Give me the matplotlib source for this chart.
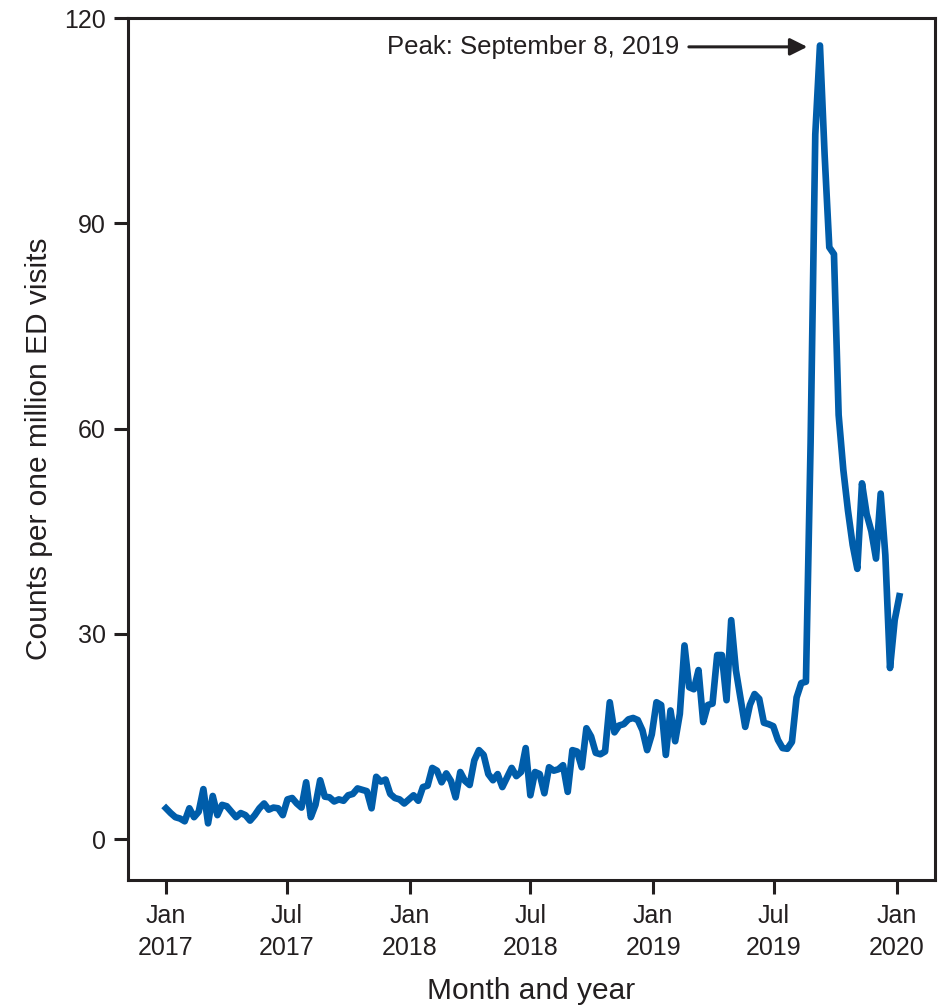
import numpy as np
import matplotlib
matplotlib.use("Agg")
import matplotlib.pyplot as plt
import datetime as dt

plt.rcParams['font.family'] = ['Liberation Sans', 'DejaVu Sans']

start_date = "2017-01-01"
counts = [
    4.5, 3.8, 3.2, 3.0, 2.6, 4.5, 3.2, 4.0, 7.3, 2.3,
    6.3, 3.5, 5.0, 4.8, 4.0, 3.2, 3.8, 3.5, 2.7, 3.5,
    4.5, 5.2, 4.3, 4.6, 4.5, 3.5, 5.8, 6.0, 5.2, 4.6,
    8.3, 3.2, 5.0, 8.6, 6.2, 6.1, 5.5, 5.8, 5.6, 6.4,
    6.6, 7.4, 7.2, 7.0, 4.5, 9.1, 8.4, 8.7, 6.6, 6.0,
    5.8, 5.2, 5.8, 6.4, 5.6, 7.6, 7.8, 10.4, 10.0, 8.3,
    9.6, 8.5, 6.1, 9.8, 8.5, 7.9, 11.5, 13.0, 12.3, 9.5,
    8.6, 9.5, 7.6, 9.0, 10.4, 9.2, 9.8, 13.3, 6.4, 9.8,
    9.5, 6.7, 10.5, 10.0, 10.2, 10.8, 6.9, 13.0, 12.8, 10.5,
    16.2, 15.0, 12.6, 12.4, 12.8, 20.0, 15.6, 16.6, 16.8, 17.5,
    17.7, 17.4, 15.9, 13.0, 15.3, 20.0, 19.6, 12.3, 18.8, 14.3,
    18.3, 28.3, 22.2, 21.9, 24.7, 17.1, 19.6, 19.8, 26.9, 26.9,
    20.3, 32.0, 24.7, 20.5, 16.4, 19.6, 21.2, 20.5, 17.0, 16.8,
    16.5, 14.5, 13.3, 13.2, 14.2, 20.7, 22.8, 23.0, 58.0, 103.0,
    116.0, 100.0, 86.5, 85.5, 62.0, 54.0, 48.0, 43.0, 39.5, 52.0,
    47.5, 45.0, 41.0, 50.5, 41.5, 25.0, 32.0, 35.5,
]
dates = np.datetime64(start_date) + np.arange(len(counts)) * np.timedelta64(7, 'D')
dates = dates.astype('datetime64[D]').astype(dt.date)

tick_dates = [dt.date(2017, 1, 1), dt.date(2017, 7, 1), dt.date(2018, 1, 1),
              dt.date(2018, 7, 1), dt.date(2019, 1, 1), dt.date(2019, 7, 1),
              dt.date(2020, 1, 1)]
tick_labels = ["Jan\n2017", "Jul\n2017", "Jan\n2018", "Jul\n2018",
               "Jan\n2019", "Jul\n2019", "Jan\n2020"]
y_ticks = [0, 30, 60, 90, 120]
peak_label = "Peak: September 8, 2019"
peak_date = dt.date(2019, 9, 8)
peak_value = 116.0

fig = plt.figure(figsize=(9.48, 10.07), dpi=100)
ax = fig.add_axes([0.135, 0.126, 0.851, 0.856])

ax.plot(dates, counts, color='#005DAA', lw=4.8, solid_joinstyle='round')

ax.set_xlim(dt.date(2016, 11, 5), dt.date(2020, 2, 27))
ax.set_ylim(-6, 120)
ax.set_xticks(tick_dates)
ax.set_xticklabels(tick_labels, linespacing=1.45)
ax.set_yticks(y_ticks)

for s in ax.spines.values():
    s.set_linewidth(2.2)
    s.set_color('#231f20')
ax.tick_params(axis='both', length=10, width=2.2, color='#231f20',
               labelsize=18, labelcolor='#231f20')
ax.tick_params(axis='x', pad=7)
ax.tick_params(axis='y', pad=6)

ax.set_xlabel("Month and year", fontsize=21.5, color='#231f20', labelpad=12)
ax.set_ylabel("Counts per one million ED visits", fontsize=21.5,
              color='#231f20', labelpad=8)

ax.annotate(peak_label, xy=(peak_date - dt.timedelta(days=19), peak_value - 0.2),
            xytext=(dt.date(2019, 2, 9), peak_value - 0.2),
            fontsize=18.5, color='#231f20', ha='right', va='center',
            arrowprops=dict(arrowstyle='-|>', color='#231f20', lw=2.2,
                            mutation_scale=26, shrinkA=5, shrinkB=0))

fig.savefig("out.png", dpi=100)
